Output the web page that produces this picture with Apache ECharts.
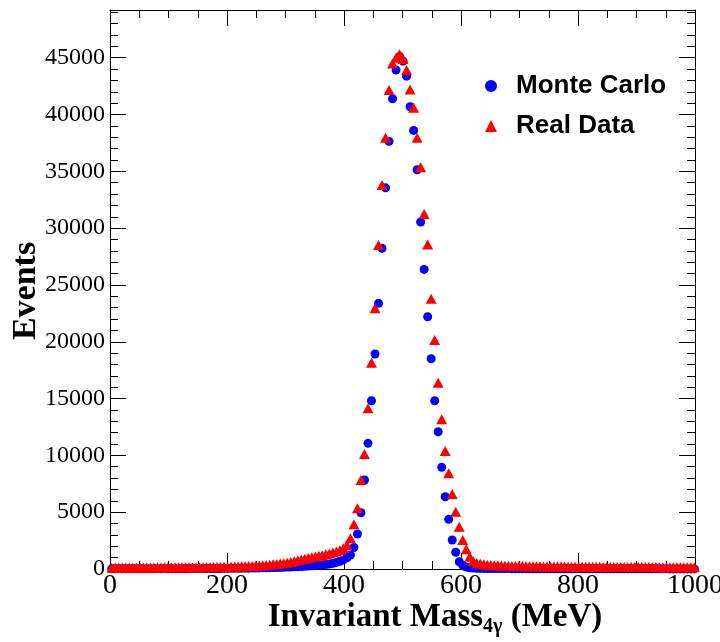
<!DOCTYPE html>
<html><head><meta charset="utf-8">
<script src="https://cdn.jsdelivr.net/npm/echarts@6/dist/echarts.min.js"></script>
<style>html,body{margin:0;padding:0;background:#fff}#c{width:720px;height:642px}</style>
</head><body><div id="c"></div>
<script>
// Histogram binning: 6 MeV bins, centers 3, 9, ..., 999
const binWidth = 6;
const nBins = 167;
const binCenters = Array.from({length: nBins}, (_, i) => binWidth / 2 + binWidth * i);

const xTickValues = [0, 200, 400, 600, 800, 1000];
const yTickValues = [0, 5000, 10000, 15000, 20000, 25000, 30000, 35000, 40000, 45000];
const yMax = 49200;

const seriesNames = ['Monte Carlo', 'Real Data'];

// Monte Carlo counts per bin
const mcValues = [
  30, 25, 28, 22, 26, 24, 27, 25, 23, 26,
  24, 27, 25, 28, 26, 29, 27, 30, 28, 31,
  30, 33, 31, 34, 36, 35, 38, 40, 39, 43,
  45, 48, 50, 54, 57, 60, 64, 68, 72, 77,
  82, 88, 94, 100, 108, 116, 124, 133, 143, 154,
  166, 179, 193, 208, 224, 242, 262, 284, 308, 335,
  365, 398, 435, 500, 580, 680, 800, 980,
  1230, 1890, 3080, 4950, 7830, 11060, 14810, 18920, 23380, 28220,
  33550, 37640, 41390, 43910, 45100, 44700, 43380, 40680, 38600, 35140,
  30540, 26370, 22200, 18500, 14810, 12080, 8950, 6360, 4370, 2550,
  1470, 640, 330, 180, 110, 80,
  60, 55, 52, 48, 45, 43, 40, 38, 36, 35,
  33, 32, 30, 29, 28, 27, 26, 25, 25, 24,
  23, 22, 22, 21, 21, 20, 20, 19, 19, 18,
  18, 18, 17, 17, 17, 16, 16, 16, 15, 15,
  15, 15, 14, 14, 14, 14, 13, 13, 13, 13,
  12, 12, 12, 12, 12, 11, 11, 11, 11, 11,
  10, 10, 10
];

// Real data counts per bin
const dataValues = [
  120, 135, 128, 140, 132, 138, 130, 142, 135, 140,
  137, 143, 135, 145, 140, 148, 142, 150, 146, 152,
  150, 155, 152, 158, 160, 158, 165, 168, 170, 175,
  180, 186, 192, 198, 206, 214, 222, 232, 244, 258,
  274, 292, 312, 334, 358, 384, 412, 442, 474, 508,
  560, 620, 690, 760, 830, 900, 970, 1040, 1100, 1160,
  1220, 1290, 1370, 1450, 1540, 1650, 1820,
  2110, 2700, 3930, 5340, 7830, 10120, 14140, 18150, 22940, 28510,
  33790, 37950, 42150, 44500, 45000, 45300, 44880, 43910, 42210, 40590,
  37950, 35350, 31240, 28570, 23790, 20150, 16390, 13170, 10380, 8420,
  6600, 5040, 3720, 2550, 1730, 1080, 700,
  520, 460, 410, 380, 355, 335, 320, 305, 295, 285,
  275, 268, 262, 255, 250, 245, 240, 236, 232, 228,
  225, 222, 218, 215, 212, 210, 207, 205, 202, 200,
  198, 196, 194, 192, 190, 188, 186, 185, 183, 182,
  180, 178, 177, 176, 174, 173, 172, 170, 169, 168,
  167, 166, 165, 164, 163, 162, 161, 160, 160, 159,
  158, 157, 156
];

const chart = echarts.init(document.getElementById('c'), null, {renderer: 'canvas'});

const serif = '"Liberation Serif", "DejaVu Serif", serif';
const sans = '"Liberation Sans", Arial, sans-serif';

function xAx(pos, showLabel) {
  return {
    type: 'value', position: pos, min: 0, max: 1000, interval: 200,
    axisLine: {show: true, onZero: false, lineStyle: {color: '#000', width: 1}},
    axisTick: {show: true, inside: true, length: 16, lineStyle: {color: '#000'}},
    minorTick: {show: true, splitNumber: 4, length: 8, lineStyle: {color: '#000'}},
    axisLabel: {show: showLabel, color: '#000', fontFamily: serif, fontSize: 28, margin: 3,
      hideOverlap: false,
      formatter: v => xTickValues.includes(v) ? String(v) : ''},
    splitLine: {show: false}
  };
}
function yAx(pos, interval, tickLen, showLabel, showLine) {
  return {
    type: 'value', position: pos, min: 0, max: yMax, interval: interval,
    axisLine: {show: showLine, onZero: false, lineStyle: {color: '#000', width: 1}},
    axisTick: {show: true, inside: true, length: tickLen, lineStyle: {color: '#000'}},
    axisLabel: {show: showLabel, color: '#000', fontFamily: serif, fontSize: 24, margin: 5,
      showMaxLabel: false,
      formatter: v => yTickValues.includes(v) ? String(v) : ''},
    splitLine: {show: false}
  };
}

chart.setOption({
  animation: false,
  backgroundColor: '#fff',
  grid: {left: 110, right: 25, top: 10, bottom: 73, containLabel: false, outerBoundsMode: 'none'},
  xAxis: [xAx('bottom', true), xAx('top', false)],
  yAxis: [
    yAx('left', 5000, 16, true, true),
    yAx('left', 1000, 8, false, false),
    yAx('right', 5000, 16, false, true),
    yAx('right', 1000, 8, false, false)
  ],
  legend: {
    orient: 'vertical', left: 480, top: 68, itemGap: 14,
    itemWidth: 12, itemHeight: 12,
    data: [{name: seriesNames[0], icon: 'circle'}, {name: seriesNames[1], icon: 'triangle'}],
    textStyle: {fontFamily: sans, fontWeight: 'bold', fontSize: 26, color: '#000', padding: [0, 0, 0, 14]}
  },
  series: [
    {
      name: seriesNames[0], type: 'scatter', xAxisIndex: 0, yAxisIndex: 0,
      symbol: 'circle', symbolSize: 9,
      itemStyle: {color: '#0000ff', opacity: 1},
      data: binCenters.map((x, i) => [x, mcValues[i]])
    },
    {
      name: seriesNames[1], type: 'scatter', xAxisIndex: 0, yAxisIndex: 0,
      symbol: 'triangle', symbolSize: [11, 10],
      itemStyle: {color: '#ff0000', opacity: 1},
      data: binCenters.map((x, i) => [x, dataValues[i]])
    }
  ],
  graphic: [
    {
      type: 'text', x: 435, y: 617,
      style: {
        text: '{a|Invariant Mass}{s|4γ}{a| (MeV)}',
        align: 'center', verticalAlign: 'middle',
        rich: {
          a: {fontFamily: serif, fontWeight: 'bold', fontSize: 33, fill: '#000'},
          s: {fontFamily: serif, fontWeight: 'bold', fontSize: 20, fill: '#000', padding: [20, 0, 0, 0]}
        }
      }
    },
    {
      type: 'text', x: 26, y: 291, rotation: Math.PI / 2,
      style: {
        text: 'Events', fontFamily: serif, fontWeight: 'bold', fontSize: 34, fill: '#000',
        align: 'center', verticalAlign: 'middle'
      }
    }
  ]
});
</script>
</body></html>
